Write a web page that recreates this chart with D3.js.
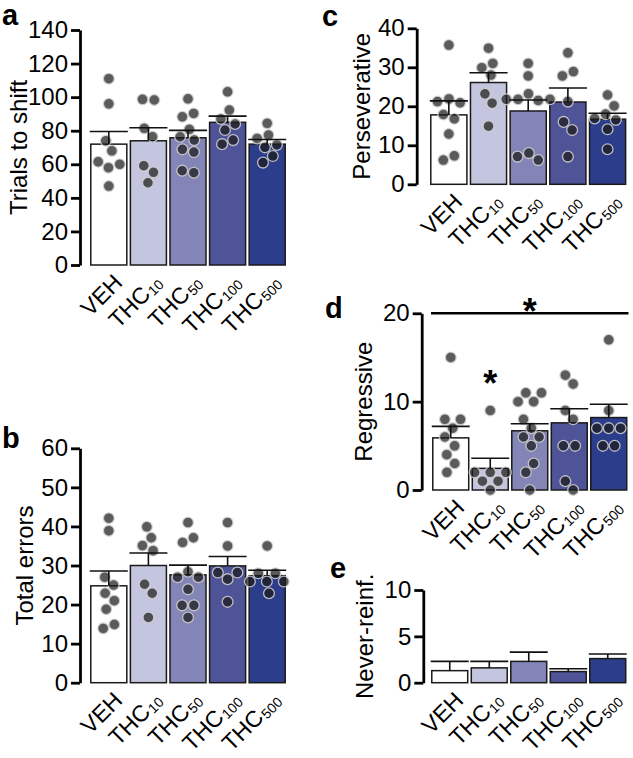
<!DOCTYPE html>
<html><head><meta charset="utf-8">
<script src="https://cdn.jsdelivr.net/npm/d3@7"></script>
<style>
body{margin:0;background:#fff;}
svg{display:block;font-family:"Liberation Sans",Arial,Helvetica,sans-serif;}
</style></head><body>
<svg id="chart" width="633" height="758"></svg>
<script>
// ---- data ----
const groupNames = ["VEH","THC","THC","THC","THC"];
const groupSubs  = ["","10","50","100","500"];
const barColors  = ["#ffffff","#c4c5de","#8285b5","#4f5499","#2c3d8b"];

const trialsTicks = [0,20,40,60,80,100,120,140];
const trialsMean  = [72, 74, 75.8, 85, 72];
const trialsSem   = [7.5, 7.8, 4.4, 3.7, 2.8];
const trialsPts   = [
  [111, 96, 74, 68, 61.5, 60, 58, 47],
  [98.7, 98.3, 81.4, 76.4, 59.2, 55.2, 49],
  [99, 90.3, 88.3, 80.8, 76.4, 74.4, 68.9, 67.3, 56.2, 55],
  [103.2, 92.3, 87, 84, 80.4, 74.4, 72],
  [84.4, 77.4, 75.4, 71.5, 70.1, 64.9, 61]
];

const errorsTicks = [0,10,20,30,40,50,60];
const errorsMean  = [24.8, 30, 27.6, 29.9, 27.4];
const errorsSem   = [3.8, 3.2, 2.5, 2.4, 1.4];
const errorsPts   = [
  [42.1, 38.9, 27, 25, 22.9, 21, 18.8, 14.9, 13.9],
  [39.9, 37.1, 35.1, 33.8, 25.2, 22.9, 16.7],
  [41, 37.1, 35.9, 28.4, 27, 27, 23.9, 19.8, 19.8, 16.7],
  [41, 35, 28.2, 28.2, 26.5, 20.7],
  [35, 28, 28, 25.9, 25.9, 25.9, 22.9]
];

const persevTicks = [0,10,20,30,40];
const persevMean  = [17.8, 26.1, 18.8, 21.1, 16.7];
const persevSem   = [3.6, 2.5, 2.8, 3.6, 1.5];
const persevPts   = [
  [35.7, 21.9, 21.2, 20.9, 17.9, 16.8, 12.9, 7.3, 6.2],
  [34.9, 31, 29.9, 28, 23.2, 20.8, 14.9],
  [31, 27.8, 23.2, 21.8, 21.8, 21.5, 21.8, 8, 7.1, 6.2],
  [33.7, 28.9, 27.8, 21.2, 16, 13.9, 7.1],
  [22.9, 20.1, 18, 16.5, 16.9, 14.1, 9]
];

const regrTicks = [0,10,20];
const regrMean  = [5.9, 2.45, 6.7, 7.6, 8.2];
const regrSem   = [1.3, 1.15, 0.8, 1.6, 1.5];
const regrPts   = [
  [15, 8, 8, 7, 6, 5, 4, 3, 2],
  [9, 2, 2, 2, 1, 1, 0],
  [11, 11, 10, 10, 8, 7, 6, 6, 5, 3, 2, 0],
  [13, 12, 9, 8, 5, 5, 1, 0],
  [17, 9, 7, 7, 7, 5, 5]
];

const neverTicks = [0,5,10];
const neverMean  = [1.3, 1.6, 2.3, 1.2, 2.6];
const neverSem   = [1.0, 0.7, 1.0, 0.3, 0.5];

// ---- layout ----
const panels = [
  {letter:"a", lx:2, ly:25, title:"Trials to shift", tx:27, axisX:80, yr:[265,30], ticks:trialsTicks, mean:trialsMean, sem:trialsSem, pts:trialsPts, xr:[89,287]},
  {letter:"b", lx:2, ly:448, title:"Total errors", tx:33, axisX:80, yr:[682.7,448.3], ticks:errorsTicks, mean:errorsMean, sem:errorsSem, pts:errorsPts, xr:[89,287]},
  {letter:"c", lx:322, ly:26, title:"Perseverative", tx:370, axisX:416.7, yr:[184.3,28.3], ticks:persevTicks, mean:persevMean, sem:persevSem, pts:persevPts, xr:[429,627.4]},
  {letter:"d", lx:325, ly:318, title:"Regressive", tx:372, axisX:421.7, yr:[490,313.3], ticks:regrTicks, mean:regrMean, sem:regrSem, pts:regrPts, xr:[431,628.5], sig:true},
  {letter:"e", lx:330, ly:578, title:"Never-reinf.", tx:373, axisX:423.3, yr:[682.7,590], ticks:neverTicks, mean:neverMean, sem:neverSem, pts:null, xr:[430,627.5]}
];

const svg = d3.select("#chart");
const idx = d3.range(groupNames.length);

panels.forEach(p => {
  const g = svg.append("g");
  const y = d3.scaleLinear().domain([0, d3.max(p.ticks)]).range(p.yr);
  const x = d3.scaleBand().domain(idx).range(p.xr).paddingInner(0.09).paddingOuter(0.045);
  const bw = x.bandwidth();

  g.append("text").attr("x", p.lx).attr("y", p.ly).attr("font-size", 29).attr("font-weight", "bold").text(p.letter);

  const mid = (p.yr[0] + p.yr[1]) / 2;
  g.append("text").attr("transform", `translate(${p.tx},${mid}) rotate(-90)`)
    .attr("text-anchor", "middle").attr("font-size", 24).text(p.title);

  const ax = g.append("g").attr("transform", `translate(${p.axisX},0)`)
    .call(d3.axisLeft(y).tickValues(p.ticks).tickSize(9).tickSizeOuter(0).tickPadding(3).tickFormat(d3.format("d")));
  ax.select(".domain").attr("stroke", "#000").attr("stroke-width", 2.8);
  ax.selectAll(".tick line").attr("stroke", "#000").attr("stroke-width", 2.8);
  ax.selectAll(".tick text").attr("font-size", 24).attr("fill", "#000").attr("font-family", "Liberation Sans, Arial, sans-serif");

  g.selectAll("rect.bar").data(idx).enter().append("rect")
    .attr("x", i => x(i)).attr("width", bw)
    .attr("y", i => y(p.mean[i])).attr("height", i => y(0) - y(p.mean[i]))
    .attr("fill", i => barColors[i]).attr("stroke", "#1a1a1a").attr("stroke-width", 1.5);

  if (p.pts) {
    const r = 5.4;
    idx.forEach(i => {
      const cx = x(i) + bw / 2;
      const nodes = p.pts[i].map((v, k) => ({fy: y(v), x: cx + (k % 2 ? 0.5 : -0.5) * (k + 1) * 0.3, y: y(v)}));
      const sim = d3.forceSimulation(nodes)
        .force("x", d3.forceX(cx).strength(0.08))
        .force("c", d3.forceCollide(5.9).iterations(4))
        .stop();
      for (let t = 0; t < 300; t++) sim.tick();
      g.selectAll(null).data(nodes).enter().append("circle")
        .attr("cx", d => d.x).attr("cy", d => d.fy).attr("r", r)
        .attr("fill", "#1c1c1c").attr("fill-opacity", 0.72)
        .attr("stroke", "#d4d4d4").attr("stroke-opacity", 0.85).attr("stroke-width", 1.3);
    });
  }

  idx.forEach(i => {
    const cx = x(i) + bw / 2;
    const top = y(p.mean[i] + p.sem[i]);
    g.append("line").attr("x1", cx).attr("x2", cx).attr("y1", y(p.mean[i])).attr("y2", top)
      .attr("stroke", "#111").attr("stroke-width", 1.6);
    g.append("line").attr("x1", cx - bw / 2 - 1).attr("x2", cx + bw / 2 + 1).attr("y1", top).attr("y2", top)
      .attr("stroke", "#111").attr("stroke-width", 1.6);
  });

  // rotated category labels with subscripts
  const axisY = y(0);
  idx.forEach(i => {
    const cx = x(i) + bw / 2;
    const lg = g.append("g").attr("transform", `translate(${cx + 15},${axisY + 19}) rotate(-45)`);
    let subW = 0;
    if (groupSubs[i]) {
      const s = lg.append("text").attr("text-anchor", "end").attr("font-size", 14)
        .attr("x", 0).attr("y", 2).text(groupSubs[i]);
      subW = s.node().getComputedTextLength() + 1;
    }
    lg.append("text").attr("text-anchor", "end").attr("font-size", 23)
      .attr("x", -subW).attr("y", 0).text(groupNames[i]);
  });

  if (p.sig) {
    const yl = y(20);
    g.append("line").attr("x1", p.xr[0]).attr("x2", p.xr[1]).attr("y1", yl).attr("y2", yl)
      .attr("stroke", "#000").attr("stroke-width", 2.6);
    g.append("text").attr("x", (p.xr[0] + p.xr[1]) / 2).attr("y", yl + 11).attr("text-anchor", "middle")
      .attr("font-size", 36).attr("font-weight", "bold").text("*");
    const c1 = x(1) + bw / 2;
    g.append("text").attr("x", c1).attr("y", y(13) + 21).attr("text-anchor", "middle")
      .attr("font-size", 36).attr("font-weight", "bold").text("*");
  }
});
</script>
</body></html>
